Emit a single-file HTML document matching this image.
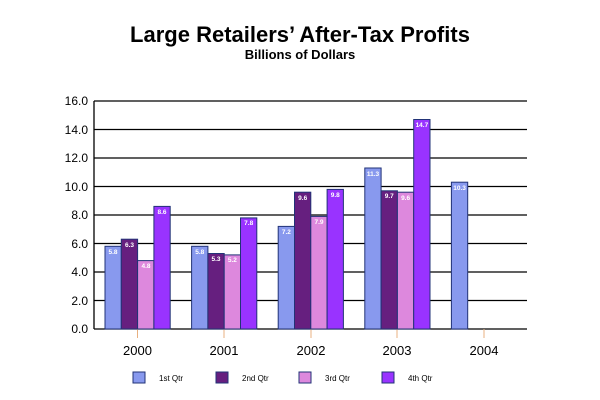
<!DOCTYPE html>
<html><head><style>body{margin:0;background:#fff}svg{display:block}</style></head><body>
<svg width="600" height="400" xmlns="http://www.w3.org/2000/svg" font-family="Liberation Sans, Arial, sans-serif">
<text x="300" y="42" text-anchor="middle" font-size="22" font-weight="bold">Large Retailers’ After-Tax Profits</text>
<text x="300" y="59" text-anchor="middle" font-size="13" font-weight="bold">Billions of Dollars</text>
<g stroke="#000" stroke-width="1.3">
<line x1="94" y1="101" x2="527" y2="101"/><line x1="94" y1="129.5" x2="527" y2="129.5"/>
<line x1="94" y1="158" x2="527" y2="158"/><line x1="94" y1="186.5" x2="527" y2="186.5"/>
<line x1="94" y1="215" x2="527" y2="215"/><line x1="94" y1="243.5" x2="527" y2="243.5"/>
<line x1="94" y1="272" x2="527" y2="272"/><line x1="94" y1="300.5" x2="527" y2="300.5"/>
<line x1="94" y1="329" x2="527" y2="329"/><line x1="94" y1="101" x2="94" y2="329"/>
</g>
<g stroke="#e8b080"><line x1="137.5" y1="329" x2="137.5" y2="338"/><line x1="224" y1="329" x2="224" y2="338"/><line x1="311" y1="329" x2="311" y2="338"/><line x1="397" y1="329" x2="397" y2="338"/><line x1="484" y1="329" x2="484" y2="338"/></g>
<g font-size="12" text-anchor="end">
<text x="88" y="105">16.0</text><text x="88" y="134">14.0</text><text x="88" y="162">12.0</text><text x="88" y="191">10.0</text><text x="88" y="219">8.0</text><text x="88" y="248">6.0</text><text x="88" y="276">4.0</text><text x="88" y="305">2.0</text><text x="88" y="333">0.0</text>
</g>
<g font-size="13" text-anchor="middle">
<text x="137.5" y="355">2000</text><text x="224" y="355">2001</text><text x="311" y="355">2002</text><text x="397" y="355">2003</text><text x="484" y="355">2004</text>
</g>
<g stroke="#223377" stroke-width="1">
<rect x="105" y="246.3" width="16.3" height="82.7" fill="#8899ee"/>
<rect x="121.3" y="239.2" width="16.3" height="89.8" fill="#661f7f"/>
<rect x="137.6" y="260.6" width="16.3" height="68.4" fill="#dd88dd"/>
<rect x="153.9" y="206.4" width="16.3" height="122.6" fill="#9933ff"/>
<rect x="191.6" y="246.3" width="16.3" height="82.7" fill="#8899ee"/>
<rect x="207.9" y="253.5" width="16.3" height="75.5" fill="#661f7f"/>
<rect x="224.2" y="254.9" width="16.3" height="74.1" fill="#dd88dd"/>
<rect x="240.5" y="217.9" width="16.3" height="111.1" fill="#9933ff"/>
<rect x="278.2" y="226.4" width="16.3" height="102.6" fill="#8899ee"/>
<rect x="294.5" y="192.2" width="16.3" height="136.8" fill="#661f7f"/>
<rect x="310.8" y="216.4" width="16.3" height="112.6" fill="#dd88dd"/>
<rect x="327.1" y="189.4" width="16.3" height="139.6" fill="#9933ff"/>
<rect x="364.8" y="168" width="16.3" height="161" fill="#8899ee"/>
<rect x="381.1" y="190.8" width="16.3" height="138.2" fill="#661f7f"/>
<rect x="397.4" y="192.2" width="16.3" height="136.8" fill="#dd88dd"/>
<rect x="413.7" y="119.5" width="16.3" height="209.5" fill="#9933ff"/>
<rect x="451.4" y="182.2" width="16.3" height="146.8" fill="#8899ee"/>
</g>
<g font-size="6.5" font-weight="bold" fill="#fff" text-anchor="middle">
<text x="113" y="254">5.8</text><text x="129.5" y="247">6.3</text><text x="146" y="268">4.8</text><text x="162" y="214">8.6</text>
<text x="199.8" y="254">5.8</text><text x="216" y="261">5.3</text><text x="232.4" y="262">5.2</text><text x="248.7" y="225">7.8</text>
<text x="286.4" y="234">7.2</text><text x="302.7" y="200">9.6</text><text x="319" y="224">7.9</text><text x="335.3" y="197">9.8</text>
<text x="373" y="176">11.3</text><text x="389.3" y="198">9.7</text><text x="405.6" y="200">9.6</text><text x="421.9" y="127">14.7</text>
<text x="459.6" y="190">10.3</text>
</g>
<g stroke="#223377" stroke-width="1">
<rect x="133" y="372" width="12" height="11" fill="#8899ee"/>
<rect x="216" y="372" width="12" height="11" fill="#661f7f"/>
<rect x="299" y="372" width="12" height="11" fill="#dd88dd"/>
<rect x="382" y="372" width="12" height="11" fill="#9933ff"/>
</g>
<g font-size="8">
<text x="159" y="381">1st Qtr</text><text x="242" y="381">2nd Qtr</text><text x="325" y="381">3rd Qtr</text><text x="408" y="381">4th Qtr</text>
</g>
</svg>
</body></html>
